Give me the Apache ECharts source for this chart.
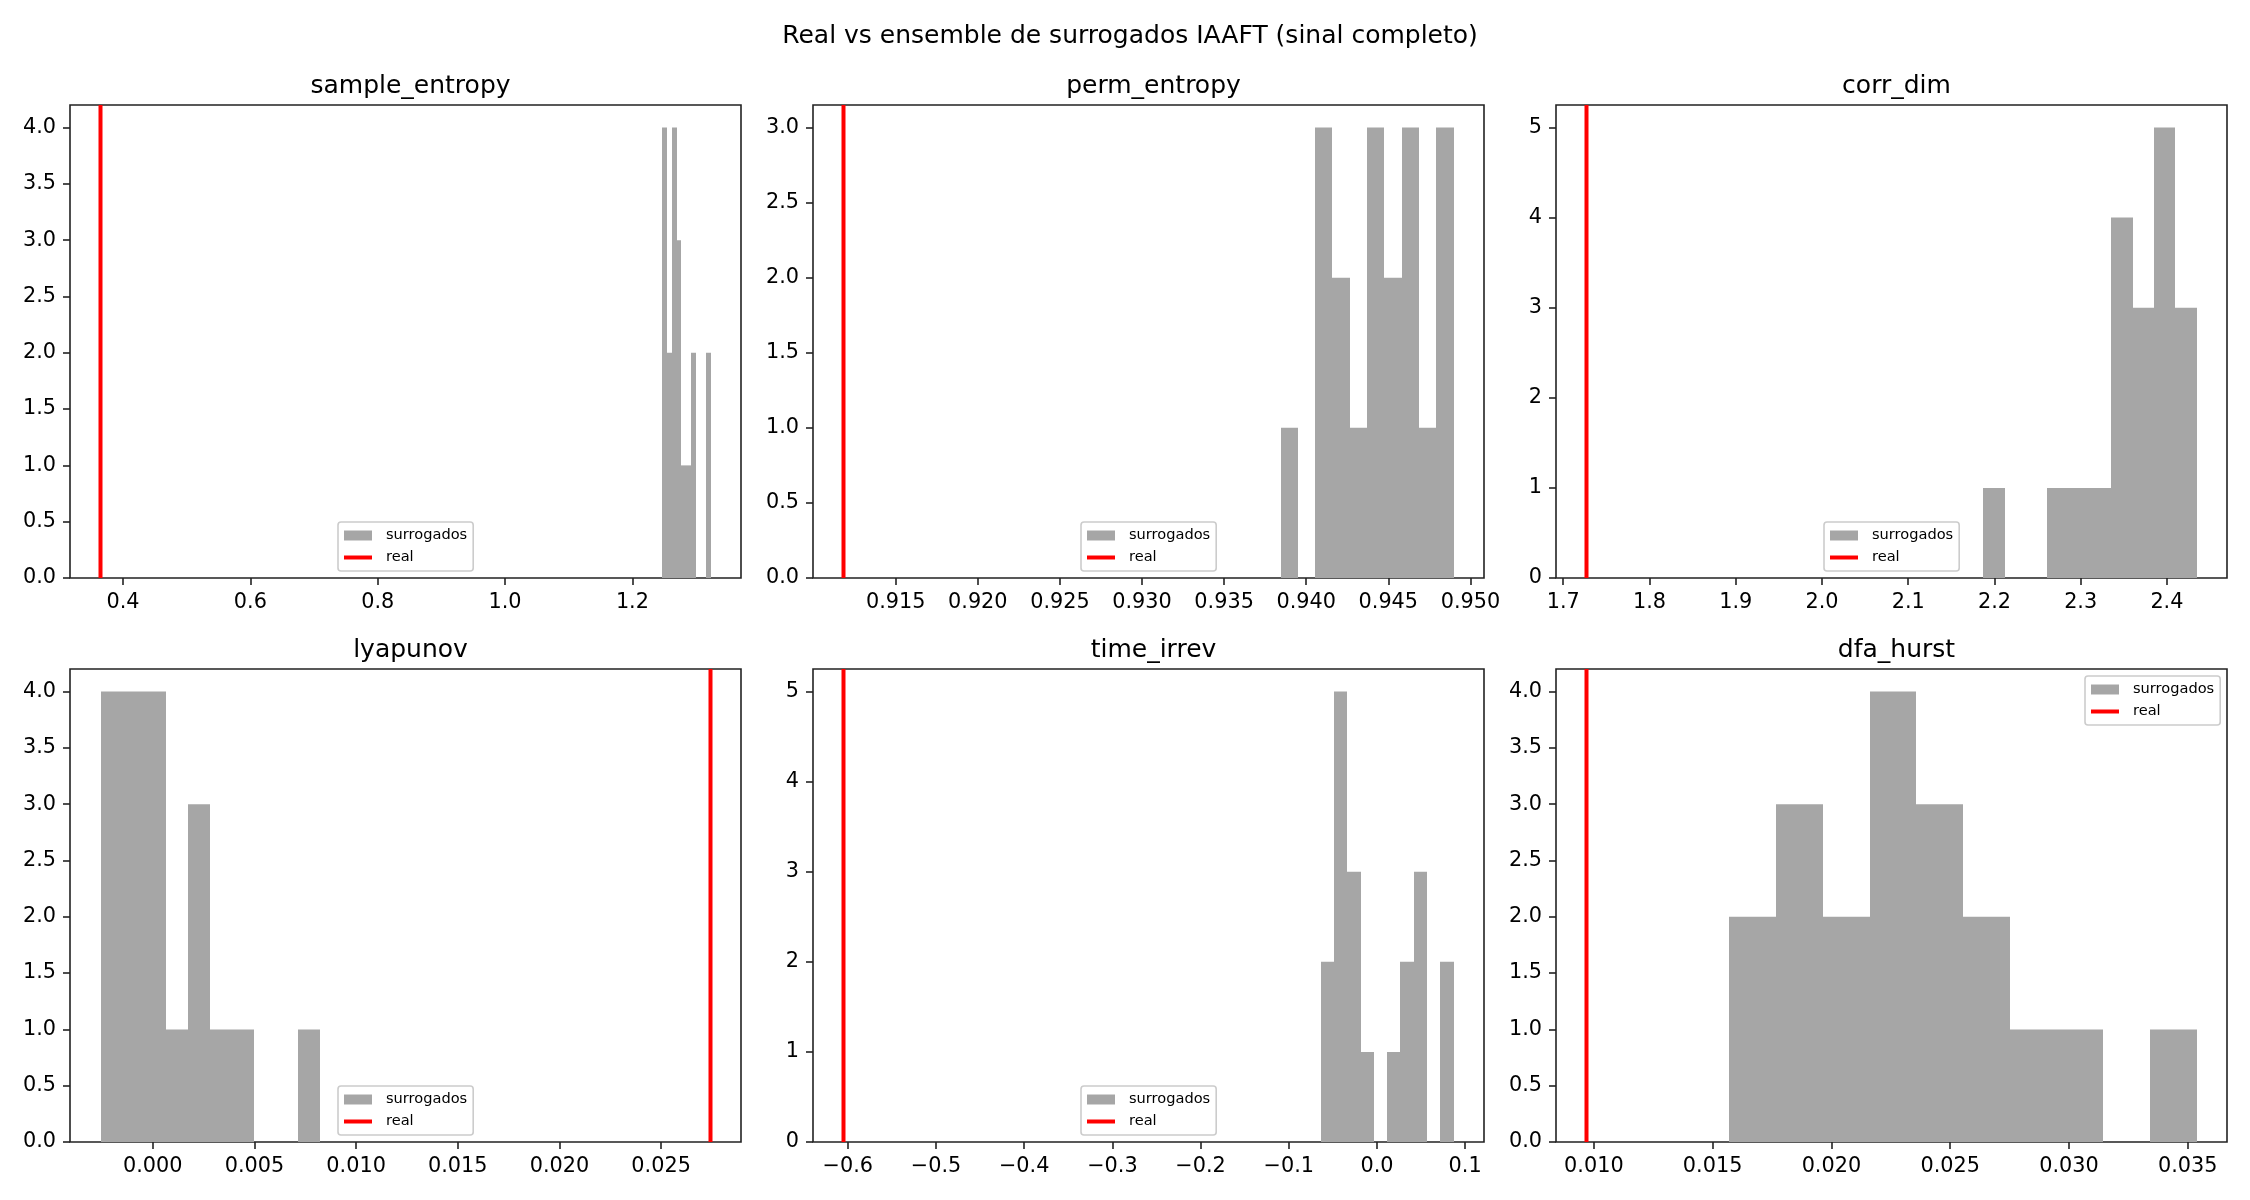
<!DOCTYPE html>
<html>
<head>
<meta charset="utf-8">
<title>Real vs ensemble de surrogados IAAFT</title>
<script src="https://cdn.jsdelivr.net/npm/echarts@6/dist/echarts.min.js"></script>
<style>
  html, body { margin: 0; padding: 0; background: #fff; }
  #chart { width: 2250px; height: 1200px; }
</style>
</head>
<body>
<div id="chart"></div>
<script>
// histogram bins (edges + counts), one set per metric
const metricNames = ["sample_entropy", "perm_entropy", "corr_dim", "lyapunov", "time_irrev", "dfa_hurst"];

const sampleEntropyEdges = [1.2466, 1.2542, 1.2618, 1.2694, 1.2770, 1.2846, 1.2922, 1.2998, 1.3074, 1.3150, 1.3226];
const sampleEntropyCounts = [4, 2, 4, 3, 1, 1, 2, 0, 0, 2];
const sampleEntropyReal = 0.3647;

const permEntropyEdges = [0.93844, 0.93949, 0.94055, 0.94160, 0.94265, 0.94371, 0.94476, 0.94581, 0.94686, 0.94792, 0.94897];
const permEntropyCounts = [1, 0, 3, 2, 1, 3, 2, 3, 1, 3];
const permEntropyReal = 0.91182;

const corrDimEdges = [2.1871, 2.2118, 2.2365, 2.2613, 2.2860, 2.3107, 2.3354, 2.3601, 2.3849, 2.4096, 2.4343];
const corrDimCounts = [1, 0, 0, 1, 1, 1, 4, 3, 5, 3];
const corrDimReal = 1.727;

const lyapunovEdges = [-0.00257, -0.00149, -0.00041, 0.00067, 0.00175, 0.00283, 0.00391, 0.00498, 0.00606, 0.00714, 0.00822];
const lyapunovCounts = [4, 4, 4, 1, 3, 1, 1, 0, 0, 1];
const lyapunovReal = 0.02743;

const timeIrrevEdges = [-0.0636, -0.0486, -0.0335, -0.0185, -0.0034, 0.0116, 0.0266, 0.0417, 0.0567, 0.0718, 0.0868];
const timeIrrevCounts = [2, 5, 3, 1, 0, 1, 2, 3, 0, 2];
const timeIrrevReal = -0.6049;

const dfaHurstEdges = [0.01571, 0.01768, 0.01964, 0.02161, 0.02357, 0.02554, 0.02751, 0.02947, 0.03144, 0.03340, 0.03537];
const dfaHurstCounts = [2, 3, 2, 4, 3, 2, 1, 1, 0, 1];
const dfaHurstReal = 0.00969;

// tick labels
const sampleEntropyXTicks = [0.4, 0.6, 0.8, 1.0, 1.2];
const permEntropyXTicks = [0.915, 0.920, 0.925, 0.930, 0.935, 0.940, 0.945, 0.950];
const corrDimXTicks = [1.7, 1.8, 1.9, 2.0, 2.1, 2.2, 2.3, 2.4];
const lyapunovXTicks = [0.000, 0.005, 0.010, 0.015, 0.020, 0.025];
const timeIrrevXTicks = [-0.6, -0.5, -0.4, -0.3, -0.2, -0.1, 0.0, 0.1];
const dfaHurstXTicks = [0.010, 0.015, 0.020, 0.025, 0.030, 0.035];

const halfYTicks4 = [0, 0.5, 1.0, 1.5, 2.0, 2.5, 3.0, 3.5, 4.0];
const halfYTicks3 = [0, 0.5, 1.0, 1.5, 2.0, 2.5, 3.0];
const intYTicks5 = [0, 1, 2, 3, 4, 5];

const panels = [
  { edges: sampleEntropyEdges, counts: sampleEntropyCounts, real: sampleEntropyReal, xTicks: sampleEntropyXTicks, xDec: 1, yTicks: halfYTicks4, yDec: 1, legend: "lower" },
  { edges: permEntropyEdges, counts: permEntropyCounts, real: permEntropyReal, xTicks: permEntropyXTicks, xDec: 3, yTicks: halfYTicks3, yDec: 1, legend: "lower" },
  { edges: corrDimEdges, counts: corrDimCounts, real: corrDimReal, xTicks: corrDimXTicks, xDec: 1, yTicks: intYTicks5, yDec: 0, legend: "lower" },
  { edges: lyapunovEdges, counts: lyapunovCounts, real: lyapunovReal, xTicks: lyapunovXTicks, xDec: 3, yTicks: halfYTicks4, yDec: 1, legend: "lower" },
  { edges: timeIrrevEdges, counts: timeIrrevCounts, real: timeIrrevReal, xTicks: timeIrrevXTicks, xDec: 1, yTicks: intYTicks5, yDec: 0, legend: "lower" },
  { edges: dfaHurstEdges, counts: dfaHurstCounts, real: dfaHurstReal, xTicks: dfaHurstXTicks, xDec: 3, yTicks: halfYTicks4, yDec: 1, legend: "upper" },
];

// layout (px), mimicking matplotlib tight_layout
const colLefts = [70, 813, 1556];
const rowTops = [105, 669];
const gw = 671, gh = 473;
const FONT = "DejaVu Sans";
const BAR_COLOR = "#a6a6a6"; // gray @ alpha 0.7 on white
const RED = "#ff0000";
// legend glyph for the red line: 28x10 box with a 4px band in the middle
const LINE_ICON = "path://M0,0 M0,3 L28,3 L28,7 L0,7 Z M28,10";

function fmt(v, d) {
  return v.toFixed(d).replace("-", "\u2212");
}

const grid = [], xAxis = [], yAxis = [], series = [], title = [], legend = [];

title.push({
  text: "Real vs ensemble de surrogados IAAFT (sinal completo)",
  left: 1125, top: 16, textAlign: "center",
  textStyle: { fontFamily: FONT, fontSize: 25, fontWeight: "normal", color: "#000", lineHeight: 30 },
});

panels.forEach((p, i) => {
  const gl = colLefts[i % 3];
  const gt = rowTops[Math.floor(i / 3)];
  grid.push({ left: gl, top: gt, width: gw, height: gh, show: true, borderColor: "#222", borderWidth: 1.6, backgroundColor: "transparent" });

  // matplotlib-like autoscale: data limits + 5% margin
  const lo = Math.min(p.real, p.edges[0]);
  const hi = Math.max(p.real, p.edges[p.edges.length - 1]);
  const pad = (hi - lo) * 0.05;
  const yTop = p.yTicks[p.yTicks.length - 1] * 1.05;

  xAxis.push({
    type: "value", gridIndex: i, min: lo - pad, max: hi + pad,
    axisLine: { show: false, onZero: false },
    splitLine: { show: false },
    axisTick: { show: true, length: 7, customValues: p.xTicks, lineStyle: { color: "#222", width: 1.6 } },
    axisLabel: { customValues: p.xTicks, margin: 14, fontFamily: FONT, fontSize: 20.8, color: "#000", formatter: (v) => fmt(v, p.xDec) },
  });
  yAxis.push({
    type: "value", gridIndex: i, min: 0, max: yTop,
    axisLine: { show: false, onZero: false },
    splitLine: { show: false },
    axisTick: { show: true, length: 7, customValues: p.yTicks, lineStyle: { color: "#222", width: 1.6 } },
    axisLabel: { customValues: p.yTicks, margin: 14, fontFamily: FONT, fontSize: 20.8, color: "#000", formatter: (v) => fmt(v, p.yDec) },
  });

  const bins = p.counts.map((c, k) => [p.edges[k], p.edges[k + 1], c]);
  series.push({
    name: "surrogados", type: "custom", xAxisIndex: i, yAxisIndex: i,
    itemStyle: { color: BAR_COLOR },
    encode: { x: [0, 1], y: 2 },
    data: bins,
    clip: true,
    renderItem: (params, api) => {
      const a = api.coord([api.value(0), api.value(2)]);
      const b = api.coord([api.value(1), 0]);
      const x0 = Math.round(a[0]), x1 = Math.round(b[0]);
      return { type: "rect", shape: { x: x0, y: a[1], width: x1 - x0, height: b[1] - a[1] }, style: api.style() };
    },
  });
  // axvline: spans the whole y range of the axes
  series.push({
    name: "real", type: "custom", xAxisIndex: i, yAxisIndex: i,
    itemStyle: { color: RED },
    encode: { x: 0, y: 1 },
    data: [[p.real, yTop]],
    silent: true,
    renderItem: (params, api) => {
      const top = api.coord([api.value(0), api.value(1)]);
      const bot = api.coord([api.value(0), 0]);
      return { type: "line", shape: { x1: top[0], y1: top[1], x2: bot[0], y2: bot[1] }, style: { stroke: RED, lineWidth: 4 } };
    },
  });

  title.push({
    text: metricNames[i], left: gl + gw / 2, top: gt - 39, textAlign: "center",
    textStyle: { fontFamily: FONT, fontSize: 25, fontWeight: "normal", color: "#000", lineHeight: 30 },
  });

  const lw = 135, lh = 49;
  legend.push({
    orient: "vertical",
    left: p.legend === "lower" ? gl + (gw - lw) / 2 : gl + gw - 7 - lw,
    top: p.legend === "lower" ? gt + gh - 7 - lh : gt + 7,
    padding: [5, 6, 5, 6],
    itemWidth: 28, itemHeight: 10, itemGap: 5,
    borderColor: "#cccccc", borderWidth: 1.6, borderRadius: 3,
    backgroundColor: "rgba(255,255,255,0.8)",
    selectedMode: false,
    textStyle: { fontFamily: FONT, fontSize: 14.6, color: "#000", lineHeight: 17, padding: [0, 0, 0, 9] },
    data: [{ name: "surrogados", icon: "rect" }, { name: "real", icon: LINE_ICON }],
  });
});

const chart = echarts.init(document.getElementById("chart"));
chart.setOption({
  animation: false,
  backgroundColor: "#fff",
  title, grid, xAxis, yAxis, legend, series,
});
</script>
</body>
</html>
